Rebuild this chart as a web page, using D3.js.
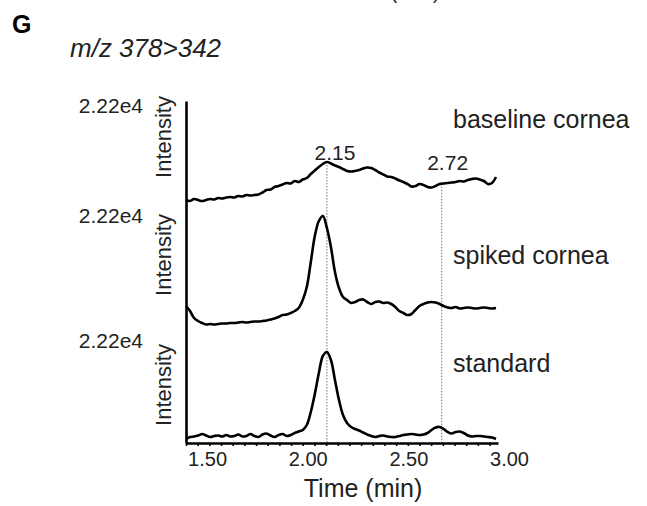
<!DOCTYPE html>
<html>
<head>
<meta charset="utf-8">
<script src="https://cdn.jsdelivr.net/npm/d3@7"></script>
<style>
  html, body { margin: 0; padding: 0; background: #fff; }
  svg { display: block; font-family: "Liberation Sans", Arial, Helvetica, sans-serif; }
</style>
</head>
<body>
<svg id="chart" width="647" height="506"></svg>
<script>
// Retention time grid (min)
const times = [1.45, 1.47, 1.49, 1.51, 1.53, 1.55, 1.57, 1.59, 1.61, 1.63,
  1.65, 1.67, 1.69, 1.71, 1.73, 1.75, 1.77, 1.79, 1.81, 1.83,
  1.85, 1.87, 1.89, 1.91, 1.93, 1.95, 1.97, 1.99, 2.01, 2.03,
  2.05, 2.07, 2.09, 2.11, 2.13, 2.15, 2.17, 2.19, 2.21, 2.23,
  2.25, 2.27, 2.29, 2.31, 2.33, 2.35, 2.37, 2.39, 2.41, 2.43,
  2.45, 2.47, 2.49, 2.51, 2.53, 2.55, 2.57, 2.59, 2.61, 2.63,
  2.65, 2.67, 2.69, 2.71, 2.73, 2.75, 2.77, 2.79, 2.81, 2.83,
  2.85, 2.87, 2.89, 2.91, 2.93, 2.95, 2.97, 2.99];

// Ion intensity (counts), m/z 378>342
const baselineCornea = [3200, 3000, 3400, 3200, 3000, 3200, 3400, 3300, 3600, 3500,
  3700, 3800, 3700, 4000, 3900, 4200, 4100, 4200, 4300, 4700,
  5200, 5300, 5800, 6000, 6300, 6600, 6500, 7000, 6800, 7300,
  7600, 8400, 9100, 9800, 10400, 10800, 10500, 10100, 9800, 9400,
  9000, 8900, 9000, 9200, 9500, 9700, 9600, 9200, 8700, 8300,
  7900, 7800, 7500, 7100, 6800, 6400, 5900, 6000, 6400, 6200,
  5800, 5700, 6000, 6400, 6500, 6600, 6700, 6800, 7000, 6900,
  7200, 7400, 7500, 7300, 7000, 6400, 6600, 7800];

const spikedCornea = [4200, 3200, 1800, 1200, 800, 500, 600, 500, 600, 700,
  700, 800, 800, 900, 1000, 900, 1000, 1100, 1100, 1200,
  1300, 1500, 1700, 2000, 2400, 2500, 2800, 3200, 3800, 5400,
  8000, 13000, 18200, 21200, 22200, 19800, 16000, 11000, 7800, 6000,
  5400, 4800, 5000, 5400, 5500, 5000, 4600, 5000, 5100, 4800,
  4900, 4600, 4000, 3200, 2800, 2400, 2600, 3400, 4200, 4600,
  4900, 5000, 4900, 4600, 4200, 3900, 3800, 4000, 3700, 3800,
  3900, 3800, 3700, 3800, 3900, 3800, 3700, 3800];

const standard = [800, 1200, 1300, 1500, 1800, 1500, 1200, 1400, 1500, 1300,
  1600, 1300, 1400, 1700, 1300, 1400, 1800, 1400, 1200, 1700,
  1900, 1500, 1200, 1600, 1800, 1400, 1600, 2000, 2300, 2600,
  3600, 6200, 9800, 14000, 17400, 18200, 16600, 12600, 8600, 5600,
  4000, 3200, 2800, 2500, 2100, 1700, 1400, 1200, 1400, 1500,
  1300, 1200, 1200, 1400, 1600, 1700, 1800, 1700, 1600, 1700,
  2000, 2600, 3100, 3200, 2800, 2200, 1900, 2200, 2300, 2000,
  1500, 1300, 1400, 1400, 1300, 1200, 1100, 800];

const traceNames = ["baseline cornea", "spiked cornea", "standard"];
const traceValues = [baselineCornea, spikedCornea, standard];
const fullScale = [22200, 22200, 22200];
const peakTimes = [2.15, 2.72];
const xTicks = [1.50, 2.00, 2.50, 3.00];
const xDomain = [1.45, 3.00];
const minorStep = 0.058;
const panelTitle = "G";
const transition = "m/z 378>342";
const xTitle = "Time (min)";
const yTitle = "Intensity";

// Stacked panel geometry: pixel row of zero and of full scale
const panels = [
  { zero: 216, top: 105, scaleY: 113, nameY: 128, yTitleY: 137 },
  { zero: 327, top: 216, scaleY: 223, nameY: 264, yTitleY: 255 },
  { zero: 443, top: 332, scaleY: 348, nameY: 372, yTitleY: 385 }
];
const plot = { left: 186, right: 498, axisY: 443, axisTop: 101 };

const svg = d3.select("#chart");
svg.append("rect").attr("width", 647).attr("height", 506).attr("fill", "#fff");

const x = d3.scaleLinear().domain(xDomain).range([plot.left, plot.right]);

// Tail of the axis title from the panel above
svg.append("text")
  .attr("x", 388).attr("y", -2)
  .attr("text-anchor", "middle")
  .attr("font-size", 22)
  .attr("fill", "#333")
  .text(xTitle);

svg.append("text")
  .attr("x", 12).attr("y", 33)
  .attr("font-size", 25).attr("font-weight", "bold")
  .text(panelTitle);

svg.append("text")
  .attr("x", 70).attr("y", 57)
  .attr("font-size", 26).attr("font-style", "italic")
  .attr("fill", "#222")
  .text(transition);

const fmtScale = v => d3.format(".2e")(v).replace("+", "");

// Dotted retention-time markers (under the traces)
const yTop = d3.scaleLinear().domain([0, fullScale[0]]).range([panels[0].zero, panels[0].top]);
const markerLabelDx = [8, 6];
const markerLabelY = [160, 170];
peakTimes.forEach((t, k) => {
  const v = d3.scaleLinear().domain(times).range(baselineCornea)(t);
  svg.append("line")
    .attr("x1", x(t)).attr("x2", x(t))
    .attr("y1", yTop(v) + 3).attr("y2", plot.axisY)
    .attr("stroke", "#8a8a8a").attr("stroke-width", 1.2)
    .attr("stroke-dasharray", "1.5,1.5");
  svg.append("text")
    .attr("x", x(t) + markerLabelDx[k]).attr("y", markerLabelY[k])
    .attr("text-anchor", "middle")
    .attr("font-size", 21).attr("fill", "#222")
    .text(d3.format(".2f")(t));
});

// Traces
panels.forEach((p, k) => {
  const y = d3.scaleLinear().domain([0, fullScale[k]]).range([p.zero, p.top]);
  const line = d3.line()
    .x((d, i) => x(times[i]))
    .y(d => y(d))
    .curve(d3.curveCatmullRom.alpha(0.5));
  svg.append("path")
    .datum(traceValues[k])
    .attr("d", line)
    .attr("fill", "none")
    .attr("stroke", "#000")
    .attr("stroke-width", 2.6)
    .attr("stroke-linejoin", "round");

  svg.append("text")
    .attr("x", 143).attr("y", p.scaleY)
    .attr("text-anchor", "end")
    .attr("font-size", 21).attr("fill", "#222")
    .text(fmtScale(fullScale[k]));

  svg.append("text")
    .attr("transform", `translate(171,${p.yTitleY}) rotate(-90)`)
    .attr("text-anchor", "middle")
    .attr("font-size", 22).attr("fill", "#222")
    .text(yTitle);

  svg.append("text")
    .attr("x", 453).attr("y", p.nameY)
    .attr("font-size", 25).attr("fill", "#222")
    .text(traceNames[k]);
});

// Shared y axis line
const yAxisScale = d3.scaleLinear().domain([0, 1]).range([plot.axisY, plot.axisTop]);
svg.append("g")
  .attr("transform", `translate(${plot.left},0)`)
  .call(d3.axisLeft(yAxisScale).tickValues([]).tickSizeOuter(0))
  .call(g => g.select(".domain").attr("stroke", "#000").attr("stroke-width", 2.6));

// Time axis: minor tick marks and labels
const minor = d3.range(xDomain[0], xDomain[1] + 1e-9, minorStep);
svg.append("g")
  .attr("transform", `translate(0,${plot.axisY})`)
  .call(d3.axisBottom(x).tickValues(minor).tickSize(3).tickSizeOuter(0).tickFormat(""))
  .call(g => g.select(".domain").attr("stroke", "#000").attr("stroke-width", 2.6))
  .call(g => g.selectAll(".tick line").attr("stroke", "#000").attr("stroke-width", 1.6));

svg.append("g")
  .attr("transform", `translate(0,${plot.axisY})`)
  .call(d3.axisBottom(x).tickValues(xTicks).tickSize(0).tickPadding(9).tickFormat(d3.format(".2f")))
  .call(g => g.select(".domain").remove())
  .call(g => g.selectAll("text")
    .attr("dx", 11)
    .attr("font-size", 20)
    .attr("fill", "#222")
    .attr("font-family", "Liberation Sans, Arial, sans-serif"));

svg.append("text")
  .attr("x", 363).attr("y", 497)
  .attr("text-anchor", "middle")
  .attr("font-size", 25).attr("fill", "#222")
  .text(xTitle);
</script>
</body>
</html>
